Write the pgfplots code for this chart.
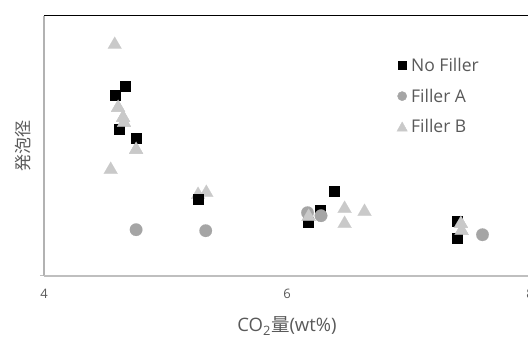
\documentclass[border=0pt]{standalone}
\usepackage{pgfplots}
\pgfplotsset{compat=1.18}
\usepackage{fontspec}
\setmainfont{Open Sans}
\newfontfamily\cjk{Noto Sans CJK JP}
\definecolor{txtgray}{HTML}{595959}
\definecolor{axgray}{HTML}{BFBFBF}
\definecolor{fa}{HTML}{A5A5A5}
\definecolor{fb}{HTML}{C9C9C9}
\newcommand{\legbox}{\pgfpathrectangle{\pgfpoint{-5pt}{-5pt}}{\pgfpoint{12pt}{10pt}}\pgfusepath{use as bounding box}}
\begin{document}
\begin{tikzpicture}
\begin{axis}[
  scale only axis,
  width=486pt, height=260pt,
  xmin=4, xmax=8, ymin=0, ymax=260,
  xtick={4,6,8},
  ytick={0},
  yticklabels={},
  tick align=outside,
  major tick length=4pt,
  xtick style={draw=none},
  ytick style={draw=axgray, line width=1.2pt},
  axis line style={draw=none},
  ticklabel style={font=\fontsize{13}{15}\selectfont, text=txtgray},
  /pgf/number format/assume math mode=true,
  xticklabel style={yshift=-6pt},
  xlabel={CO\textsubscript{2}{\cjk 量}(wt\%)},
  xlabel style={font=\fontsize{18.5}{21}\selectfont, text=txtgray, yshift=-11pt},
  ylabel={{\cjk 発泡径}},
  ylabel style={font=\fontsize{17}{20}\selectfont, text=txtgray, yshift=-1pt},
  legend style={draw=none, fill=none, at={(rel axis cs:0.7263,0.846)}, anchor=north west,
    font=\fontsize{17.5}{20}\selectfont, text=txtgray, row sep=12pt,
    inner sep=0pt,
    /tikz/every even column/.append style={column sep=0pt}},
  legend cell align=left,
  after end axis/.code={
    \draw[black, line width=1.3pt] (rel axis cs:0,1) -- (rel axis cs:1,1);
    \draw[axgray!80!gray, line width=1.3pt] (rel axis cs:0,0) -- (rel axis cs:0,1);
    \draw[axgray, line width=1.6pt] (rel axis cs:0,0) -- (rel axis cs:1,0);
  },
]
\addplot[only marks, mark=triangle*, mark size=8pt, mark options={draw=fb, fill=fb, line width=0.1pt},
  forget plot] coordinates {
(4.582,231) (4.61,168) (4.651,158) (4.658,153) (4.758,126) (4.549,106)
(5.268,81) (5.336,83) (6.178,59) (6.474,67) (6.474,52) (6.638,64)
(7.431,52) (7.437,45)
};
\addplot[only marks, mark=square*, mark size=5pt, mark options={draw=black, fill=black, line width=0.1pt},
  legend image code/.code={\legbox \fill[black] (-4pt,-4pt) rectangle (4pt,4pt);}] coordinates {
(4.664,190) (4.582,181) (4.615,147) (4.758,138) (5.268,77)
(6.387,85) (6.274,66) (6.173,54) (7.398,55) (7.398,38)
};
\addlegendentry{No Filler}
\addplot[only marks, mark=*, mark size=6.3pt, mark options={draw=fa, fill=fa, line width=0.1pt},
  legend image code/.code={\legbox \fill[fa] (0pt,0pt) circle (4.6pt);}] coordinates {
(4.758,46) (5.331,45) (6.169,63) (6.280,60) (7.609,41)
};
\addlegendentry{Filler A}
\addlegendimage{legend image code/.code={\legbox \fill[fb] (-5.2pt,-4.3pt) -- (5.2pt,-4.3pt) -- (0pt,5pt) -- cycle;}}
\addlegendentry{Filler B}
\addplot[only marks, mark=triangle*, mark size=8pt, mark options={draw=fb, fill=fb, line width=0.1pt}, forget plot] coordinates {
(4.61,168) (4.651,158) (4.658,153) (4.758,126) (6.178,59) (7.431,52) (7.437,45)
};
\end{axis}
\pgfresetboundingbox
\path[use as bounding box] (-44pt,-62.3pt) rectangle (484pt,275.7pt);
\end{tikzpicture}
\end{document}
